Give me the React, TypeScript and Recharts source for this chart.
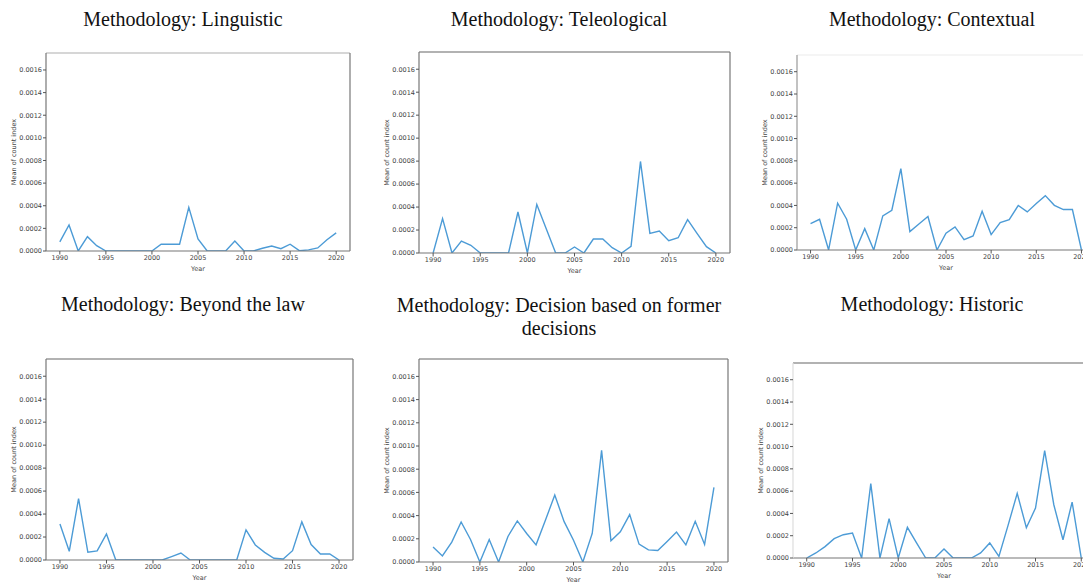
import React from 'react';
import { LineChart, Line, XAxis, YAxis, ReferenceLine } from 'recharts';

const years = [1990,1991,1992,1993,1994,1995,1996,1997,1998,1999,2000,2001,2002,2003,2004,2005,2006,2007,2008,2009,2010,2011,2012,2013,2014,2015,2016,2017,2018,2019,2020];

const linguistic = [0.00008,0.00023,0,0.000127,0.000047,0,0,0,0,0,0,0.00006,0.00006,0.00006,0.000386,0.000106,0,0,0,0.000088,0,0,0.000024,0.000044,0.00002,0.00006,0.000003,0.00001,0.000027,0.0001,0.00016];
const teleological = [0,0.0003,0,0.000104,0.000067,0,0,0,0,0.000357,0,0.000423,0.000212,0,0,0.000052,0,0.000122,0.000122,0.000046,0,0.000058,0.000797,0.000171,0.000191,0.000107,0.000133,0.00029,0.000171,0.000055,0];
const contextual = [0.000237,0.000276,0,0.00042,0.000276,0,0.000192,0,0.000306,0.000357,0.000731,0.000165,0.000234,0.0003,0,0.00015,0.000207,0.000093,0.000126,0.000348,0.000138,0.000246,0.000273,0.000399,0.000342,0.000417,0.000488,0.000401,0.000363,0.000363,0];
const beyondLaw = [0.000314,0.000076,0.000535,0.000067,0.000079,0.000227,0,0,0,0,0,0,0.00003,0.000061,0,0,0,0,0,0,0.000262,0.000131,0.000067,0.000015,0.000009,0.000081,0.000332,0.000134,0.000052,0.000052,0];
const formerDecisions = [0.00013,0.000052,0.000171,0.000345,0.000194,0,0.000194,0,0.00022,0.000354,0.000246,0.000148,0.00036,0.000577,0.000348,0.000188,0,0.000246,0.000962,0.000183,0.000261,0.000409,0.000154,0.000104,0.000099,0.000177,0.000258,0.000148,0.000351,0.000151,0.000643];
const historic = [0,0.000045,0.000102,0.000173,0.000209,0.000224,0,0.000667,0,0.000353,0,0.000275,0.000135,0,0,0.000081,0,0,0,0.000045,0.000135,0.000015,0.000293,0.00058,0.000272,0.000448,0.000963,0.000478,0.000164,0.000502,0];

const xTicks = [1990,1995,2000,2005,2010,2015,2020];
const yTicks = [0,0.0002,0.0004,0.0006,0.0008,0.001,0.0012,0.0014,0.0016];
const X_DOMAIN: [number, number] = [1988.5, 2021.5];
const Y_DOMAIN: [number, number] = [0, 0.00175];

const YW = 50;
const XH = 30;
const PAD = 2;

type PanelProps = {
  title: string[];
  values: number[];
  l: number; t: number; r: number; b: number;
  tx: number; ty: number;
  topSpine?: string;
  leftSpine?: string;
};

const tickStyle = { fontSize: 6.5, fill: '#444', fontFamily: 'DejaVu Sans' };

function Panel({ title, values, l, t, r, b, tx, ty, topSpine = '#999', leftSpine = '#777' }: PanelProps) {
  const data = years.map((y, i) => ({ year: y, v: values[i] }));
  const w = r - l + YW + PAD;
  const h = b - t + XH + PAD;
  return (
    <>
      <div style={{ position: 'absolute', left: tx, top: ty, transform: 'translateX(-50%)', fontFamily: 'Liberation Serif', fontSize: 20, lineHeight: '23px', color: '#111', textAlign: 'center', whiteSpace: 'nowrap' }}>
        {title.map((s, i) => <div key={i}>{s}</div>)}
      </div>
      <div style={{ position: 'absolute', left: l - YW, top: t - PAD }}>
        <LineChart width={w} height={h} data={data} margin={{ top: PAD, right: PAD, left: 0, bottom: 0 }}>
          <XAxis type="number" dataKey="year" domain={X_DOMAIN} ticks={xTicks} allowDataOverflow
            height={XH} tickSize={3.5} tickMargin={0.5} tick={tickStyle}
            axisLine={{ stroke: '#777', strokeWidth: 1.2 }} tickLine={{ stroke: '#555' }}
            label={{ value: 'Year', position: 'insideBottom', offset: 10, style: { fontSize: 6.5, fill: '#444', fontFamily: 'DejaVu Sans' } }} />
          <YAxis type="number" domain={Y_DOMAIN} ticks={yTicks} allowDataOverflow width={YW}
            tickFormatter={(v: number) => v.toFixed(4)} tickSize={3} tickMargin={1} tick={tickStyle}
            axisLine={{ stroke: leftSpine, strokeWidth: 1.2 }} tickLine={{ stroke: '#555' }}
            label={{ value: 'Mean of count index', angle: -90, position: 'insideLeft', offset: 18, style: { textAnchor: 'middle', fontSize: 6.5, fill: '#444', fontFamily: 'DejaVu Sans' } }} />
          <ReferenceLine y={Y_DOMAIN[1]} stroke={topSpine} strokeWidth={1.5} ifOverflow="extendDomain" />
          <ReferenceLine x={X_DOMAIN[1]} stroke="#777" strokeWidth={1.2} ifOverflow="extendDomain" />
          <Line type="linear" dataKey="v" stroke="#4c9bd6" strokeWidth={1.4} dot={false} isAnimationActive={false} />
        </LineChart>
      </div>
    </>
  );
}

export default function App() {
  return (
    <div style={{ position: 'absolute', left: 0, top: 0, width: 1083, height: 584, overflow: 'hidden', background: '#fff' }}>
      <Panel title={['Methodology: Linguistic']} values={linguistic} l={46} t={53} r={350} b={251} tx={183} ty={8} topSpine="#c8c8c8" />
      <Panel title={['Methodology: Teleological']} values={teleological} l={419} t={52} r={730} b={253} tx={559} ty={8} />
      <Panel title={['Methodology: Contextual']} values={contextual} l={797} t={55} r={1095} b={250} tx={932} ty={8} topSpine="#f2f2f2" leftSpine="#999" />
      <Panel title={['Methodology: Beyond the law']} values={beyondLaw} l={46} t={359} r={353} b={560} tx={183} ty={293} />
      <Panel title={['Methodology: Decision based on former', 'decisions']} values={formerDecisions} l={419} t={359} r={728} b={562} tx={559} ty={294} />
      <Panel title={['Methodology: Historic']} values={historic} l={793} t={363} r={1095} b={558} tx={932} ty={293} topSpine="#999" leftSpine="#ddd" />
    </div>
  );
}
